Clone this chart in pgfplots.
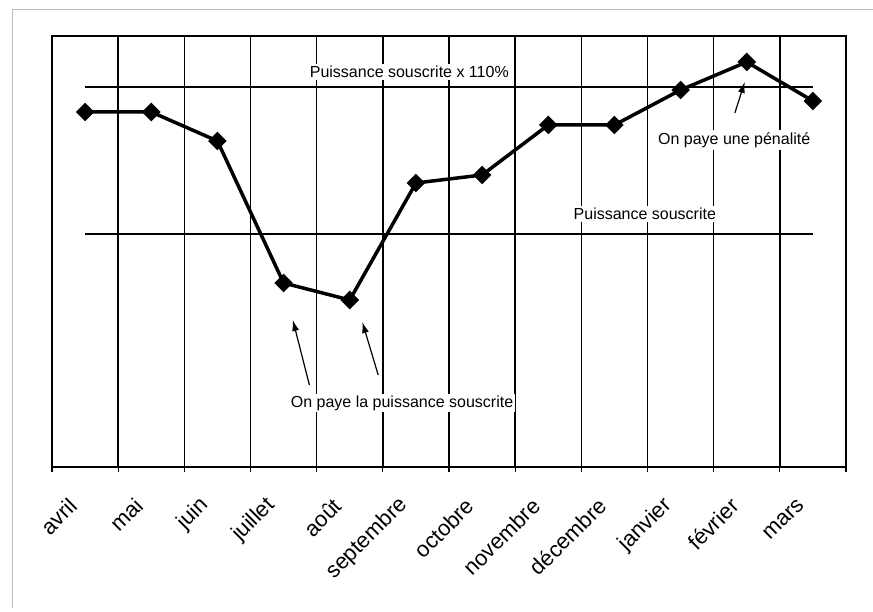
\documentclass[border=0pt]{standalone}
\usepackage{pgfplots}
\pgfplotsset{compat=1.18}
\usepackage{fontspec}
\setmainfont{Liberation Sans}
\usetikzlibrary{arrows.meta}
\begin{document}
\begin{tikzpicture}[x=1pt,y=1pt]
\useasboundingbox (0,0) rectangle (873,612);
\draw[black!25, line width=1pt] (12.5,4) -- (12.5,602) -- (873,602);
\begin{axis}[at={(52pt,145pt)}, anchor=south west, width=794pt, height=431pt, scale only axis,
  xmin=-0.5, xmax=11.5, ymin=0, ymax=431,
  ytick=\empty,
  xtick={-0.5,0.5,...,11.5}, xticklabels={},
  xmajorgrids, major grid style={black, line width=1.6pt},
  axis line style={black, line width=2pt},
  tick align=outside, xtick pos=bottom, major tick length=5pt, tick style={black, line width=1.2pt},
  xticklabel shift=35pt,
  extra x ticks={-0.18,0.82,1.82,2.82,3.82,4.82,5.82,6.82,7.82,8.82,9.82,10.82},
  extra x tick labels={avril,mai,juin,juillet,août,septembre,octobre,novembre,décembre,janvier,février,mars},
  extra x tick style={major tick length=0pt, grid=none, tick label style={font=\fontsize{22}{24}\selectfont, rotate=45, anchor=east, inner sep=0pt}},
  clip=false]
\addplot[black, line width=2pt] coordinates {(0,380) (11,380)};
\addplot[black, line width=2pt] coordinates {(0,233) (11,233)};
\addplot[black, line width=3.5pt, mark=square*, mark size=4.8pt, mark options={rotate=45, solid}] coordinates {
(0,355) (1,355) (2,326) (3,184) (4,167) (5,284) (6,292) (7,342) (8,342) (9,377) (10,405) (11,366)};
\node[fill=white, inner sep=2pt, font=\fontsize{16}{18}\selectfont] at (axis cs:4.90,395) {Puissance souscrite x 110\%};
\node[fill=white, inner sep=2pt, font=\fontsize{16}{18}\selectfont] at (axis cs:8.46,253) {Puissance souscrite};
\node[fill=white, inner sep=2pt, font=\fontsize{16}{18}\selectfont] at (axis cs:9.81,327) {On paye une pénalité};
\node[fill=white, inner sep=2pt, font=\fontsize{16}{18}\selectfont] at (axis cs:4.79,64) {On paye la puissance souscrite};
\draw[-{Latex[length=11pt,width=7pt]}, line width=1.2pt] (axis cs:9.82,354) -- (axis cs:9.97,385);
\draw[-{Latex[length=11pt,width=7pt]}, line width=1.2pt] (axis cs:3.39,82) -- (axis cs:3.14,147);
\draw[-{Latex[length=11pt,width=7pt]}, line width=1.2pt] (axis cs:4.43,92) -- (axis cs:4.19,145);
\end{axis}
\end{tikzpicture}
\end{document}
